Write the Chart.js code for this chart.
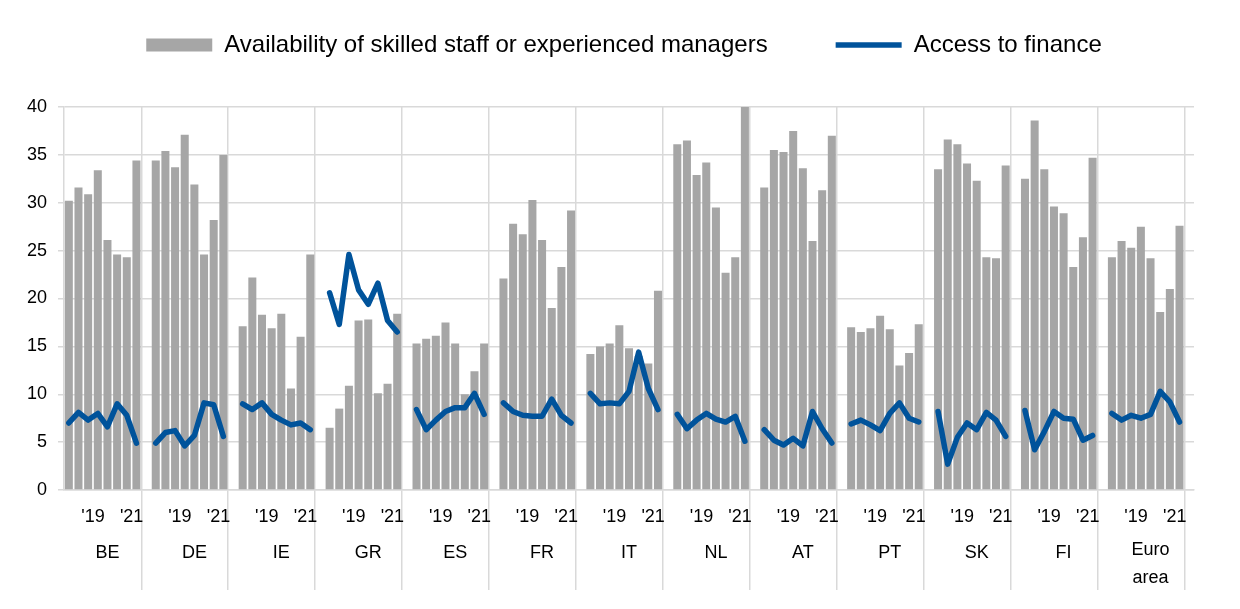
<!DOCTYPE html>
<html>
<head>
<meta charset="utf-8">
<script src="https://cdn.jsdelivr.net/npm/chart.js@4.4.1/dist/chart.umd.min.js"></script>
<style>
html, body { margin: 0; padding: 0; background: #ffffff; }
#wrap { width: 1240px; height: 609px; position: relative; }
</style>
</head>
<body>
<div id="wrap"><canvas id="chart"></canvas></div>
<script>
// ---------------- DATA ----------------
const countries = ['BE', 'DE', 'IE', 'GR', 'ES', 'FR', 'IT', 'NL', 'AT', 'PT', 'SK', 'FI', 'Euro area'];
const rounds = ['2018 H1', '2018 H2', '2019 H1', '2019 H2', '2020 H1', '2020 H2', '2021 H1', '2021 H2'];
const yearTickLabels = ["'19", "'21"];

// Availability of skilled staff or experienced managers (bars), one array per country
const skilledStaff = [
  [30.2, 31.6, 30.9, 33.4, 26.1, 24.6, 24.3, 34.4],   // BE
  [34.4, 35.4, 33.7, 37.1, 31.9, 24.6, 28.2, 35.0],   // DE
  [17.1, 22.2, 18.3, 16.9, 18.4, 10.6, 16.0, 24.6],   // IE
  [6.5, 8.5, 10.9, 17.7, 17.8, 10.1, 11.1, 18.4],     // GR
  [15.3, 15.8, 16.1, 17.5, 15.3, 10.0, 12.4, 15.3],   // ES
  [22.1, 27.8, 26.7, 30.3, 26.1, 19.0, 23.3, 29.2],   // FR
  [14.2, 15.0, 15.3, 17.2, 14.8, 14.0, 13.2, 20.8],   // IT
  [36.1, 36.5, 32.9, 34.2, 29.5, 22.7, 24.3, 40.0],   // NL
  [31.6, 35.5, 35.3, 37.5, 33.6, 26.0, 31.3, 37.0],   // AT
  [17.0, 16.5, 16.9, 18.2, 16.8, 13.0, 14.3, 17.3],   // PT
  [33.5, 36.6, 36.1, 34.1, 32.3, 24.3, 24.2, 33.9],   // SK
  [32.5, 38.6, 33.5, 29.6, 28.9, 23.3, 26.4, 34.7],   // FI
  [24.3, 26.0, 25.3, 27.5, 24.2, 18.6, 21.0, 27.6]    // Euro area
];

// Access to finance (line), one array per country
const accessToFinance = [
  [7.0, 8.1, 7.3, 8.0, 6.6, 9.0, 7.8, 4.9],           // BE
  [4.9, 6.0, 6.2, 4.6, 5.7, 9.1, 8.9, 5.6],           // DE
  [9.0, 8.4, 9.1, 7.9, 7.3, 6.8, 7.0, 6.3],           // IE
  [20.6, 17.3, 24.6, 20.9, 19.4, 21.6, 17.7, 16.5],   // GR
  [8.4, 6.3, 7.3, 8.2, 8.6, 8.6, 10.1, 7.9],          // ES
  [9.1, 8.2, 7.8, 7.7, 7.7, 9.5, 7.8, 7.0],           // FR
  [10.1, 9.0, 9.1, 9.0, 10.3, 14.4, 10.6, 8.4],       // IT
  [7.9, 6.4, 7.3, 8.0, 7.4, 7.1, 7.7, 5.1],           // NL
  [6.3, 5.2, 4.7, 5.4, 4.6, 8.2, 6.4, 4.9],           // AT
  [6.9, 7.3, 6.8, 6.2, 8.0, 9.1, 7.5, 7.1],           // PT
  [8.2, 2.7, 5.5, 7.0, 6.3, 8.1, 7.3, 5.6],           // SK
  [8.3, 4.2, 6.1, 8.2, 7.5, 7.4, 5.2, 5.7],           // FI
  [8.0, 7.3, 7.8, 7.5, 7.9, 10.3, 9.2, 7.1]           // Euro area
];

const seriesNames = ['Availability of skilled staff or experienced managers', 'Access to finance'];

// ---------------- BUILD ----------------
const SLOTS = rounds.length + 1;           // one empty slot closes each country group
const FONT = "'Liberation Sans', Arial, Helvetica, sans-serif";
const GRID = '#d9d9d9';
const BAR_COLOR = '#a6a6a6';
const LINE_COLOR = '#00539b';

const barPoints = [];
const linePoints = [];
countries.forEach((c, g) => {
  rounds.forEach((r, i) => {
    barPoints.push({ x: g * SLOTS + i, y: skilledStaff[g][i] });
    linePoints.push({ x: g * SLOTS + i, y: accessToFinance[g][i] });
  });
  linePoints.push({ x: g * SLOTS + rounds.length, y: null }); // break the line between groups
});

// year label position = middle of the rounds belonging to that year
const yearOffsets = yearTickLabels.map(lbl => {
  const yr = '20' + lbl.slice(1);
  const idx = rounds.map((r, i) => (r.startsWith(yr) ? i : -1)).filter(i => i >= 0);
  return idx.reduce((a, b) => a + b, 0) / idx.length;
});

const tickMeta = [];
countries.forEach((c, g) => {
  const base = g * SLOTS;
  tickMeta.push({ value: base - 0.5, kind: 'sep', text: '' });
  yearTickLabels.forEach((lbl, k) => tickMeta.push({ value: base + yearOffsets[k], kind: 'year', text: lbl }));
  const parts = c.split(' ');
  tickMeta.push({
    value: base + (SLOTS - 1) / 2,
    kind: parts.length > 1 ? 'country2' : 'country',
    text: parts.length > 1 ? [''].concat(parts) : ['', '', c]
  });
});
tickMeta.push({ value: countries.length * SLOTS - 0.5, kind: 'sep', text: '' });
tickMeta.sort((a, b) => a.value - b.value);

const isSep = ctx => ctx.tick && tickMeta.some(t => t.kind === 'sep' && Math.abs(t.value - ctx.tick.value) < 1e-6);

const spacer = (position, size) => ({
  type: 'linear',
  position: position,
  min: 0,
  max: 1,
  afterFit: scale => {
    if (position === 'top' || position === 'bottom') scale.height = size; else scale.width = size;
  },
  ticks: { display: false },
  grid: { display: false, drawTicks: false },
  border: { display: false }
});

new Chart(document.getElementById('chart'), {
  data: {
    datasets: [
      {
        type: 'bar',
        label: seriesNames[0],
        data: barPoints,
        xAxisID: 'x',
        yAxisID: 'y',
        backgroundColor: BAR_COLOR,
        borderWidth: 0,
        categoryPercentage: 1.0,
        barPercentage: 0.83,
        pointStyle: 'rect',
        order: 1
      },
      {
        type: 'line',
        label: seriesNames[1],
        data: linePoints,
        xAxisID: 'x',
        yAxisID: 'y',
        borderColor: LINE_COLOR,
        backgroundColor: LINE_COLOR,
        borderWidth: 5.5,
        pointRadius: 0,
        pointHoverRadius: 0,
        pointStyle: 'line',
        tension: 0,
        spanGaps: false,
        borderCapStyle: 'round',
        borderJoinStyle: 'round',
        order: 0
      }
    ]
  },
  options: {
    responsive: true,
    maintainAspectRatio: false,
    animation: false,
    events: [],
    layout: { padding: { top: -35, right: 0, bottom: 0, left: 8 } },
    plugins: {
      tooltip: { enabled: false },
      title: { display: false },
      legend: {
        display: true,
        position: 'top',
        align: 'center',
        labels: {
          font: { family: FONT, size: 24 },
          color: '#000000',
          usePointStyle: true,
          pointStyleWidth: 66,
          boxHeight: 13,
          padding: 68,
          sort: (a, b) => a.datasetIndex - b.datasetIndex
        }
      }
    },
    scales: {
      x: {
        type: 'linear',
        position: 'bottom',
        bounds: 'data',
        min: -0.5,
        max: countries.length * SLOTS - 0.5,
        offset: false,
        afterBuildTicks: scale => { scale.ticks = tickMeta.map(t => ({ value: t.value })); },
        afterFit: scale => { scale.height = 119; },
        ticks: {
          autoSkip: false,
          maxRotation: 0,
          minRotation: 0,
          padding: -82,
          color: '#000000',
          font: ctx => {
            const m = tickMeta[ctx.index];
            return { family: FONT, size: 18, lineHeight: (m && m.kind === 'country2') ? '28px' : '18px' };
          },
          callback: (value, index) => tickMeta[index] ? tickMeta[index].text : ''
        },
        grid: {
          display: true,
          drawOnChartArea: true,
          drawTicks: true,
          tickLength: 100,
          lineWidth: 1.5,
          color: ctx => (isSep(ctx) ? GRID : 'rgba(0,0,0,0)'),
          tickColor: ctx => (isSep(ctx) ? GRID : 'rgba(0,0,0,0)')
        },
        border: { display: true, color: GRID, width: 1.5 }
      },
      y: {
        type: 'linear',
        position: 'left',
        min: 0,
        max: 40,
        afterFit: scale => { scale.width = 56; },
        ticks: {
          stepSize: 5,
          padding: 11,
          color: '#000000',
          font: { family: FONT, size: 18 }
        },
        grid: {
          color: GRID,
          lineWidth: 1.5,
          tickLength: 6,
          drawTicks: true
        },
        border: { display: true, color: GRID, width: 1.5 }
      },
      // empty spacer axes (space between legend and plot, and right margin)
      xSpacer: spacer('top', 40),
      ySpacer: spacer('right', 46)
    }
  }
});
</script>
</body>
</html>
